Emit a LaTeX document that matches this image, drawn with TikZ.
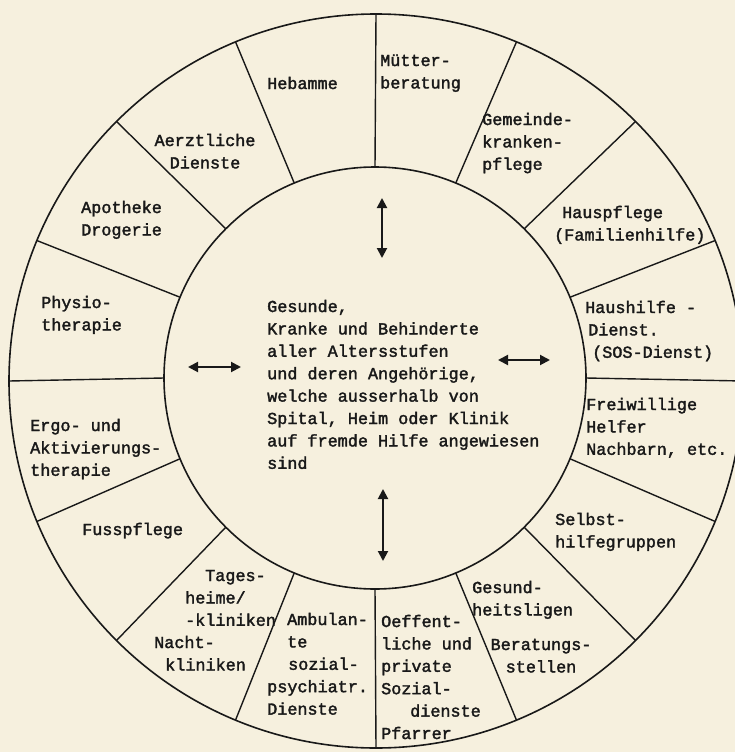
\documentclass[tikz,border=0pt]{standalone}
\usepackage{fontspec}
\newfontfamily\typew{Liberation Mono}[FakeBold=2]
\usepackage{xcolor}
\usetikzlibrary{arrows.meta}
\definecolor{paper}{RGB}{246,240,222}
\definecolor{ink}{RGB}{25,25,25}

\begin{document}
\begin{tikzpicture}[
    x=1pt, y=-1pt,
    every node/.style={inner sep=0pt, text=ink, font=\typew\fontsize{16.8}{22.4}\selectfont},
    service/.style={anchor=base west, align=left},
    cservice/.style={anchor=base, align=center},
    ring/.style={draw=ink, line width=1.6pt},
    spoke/.style={draw=ink, line width=1.4pt},
    twoway/.style={{Triangle[length=10pt,width=10pt]}-{Triangle[length=10pt,width=10pt]}, line width=2pt, draw=ink}
]
    \fill[paper] (0,0) rectangle (735,752);
    \useasboundingbox (0,0) rectangle (735,752);

    % Inner and outer circle, the ring between them cut into 16 sectors of 22.5 degrees
    \coordinate (ci) at (375,378);
    \coordinate (co) at (376,381);
    \draw[ring] (co) circle[radius=367];
    \draw[ring] (ci) circle[radius=211];
    \foreach \a in {0,22.5,...,337.5}
        \draw[spoke] ([shift={(\a:211)}]ci) -- ([shift={(\a:367)}]co);

    % Sectors, clockwise from the top
    % (each node sits on the baseline of its last line)
    \node[service] (hebamme) at (267,89) {Hebamme};
    \node[service] (muetter) at (380,88.4) {Mütter-\\beratung};
    \node[service] (gemeinde) at (482,169.8) {Gemeinde-\\kranken-\\pflege};
    \node[service] (hauspflege) at (554,240.4) {\hspace*{8pt}Hauspflege\\(Familienhilfe)};
    \node[service] (haushilfe) at (585,357.8) {Haushilfe -\\\hspace*{3pt}Dienst.\\\hspace*{7pt}(SOS-Dienst)};
    \node[service] (freiwillig) at (586,454.8) {Freiwillige\\Helfer\\Nachbarn, etc.};
    \node[service] (selbsthilfe) at (555,547.4) {Selbst-\\hilfegruppen};
    \node[service] (ligen) at (472,615.4) {Gesund-\\heitsligen};
    \node[cservice] (beratung) at (541,672.4) {Beratungs-\\stellen};
    \node[service] (sozial) at (381,739) {Oeffent-\\liche und\\private\\Sozial-\\\hspace*{29pt}dienste\\Pfarrer};
    \node[service] (ambulant) at (267,714.6) {\hspace*{20pt}Ambulan-\\\hspace*{20pt}te\\\hspace*{21pt}sozial-\\psychiatr.\\Dienste};
    \node[service] (tages) at (185,625.8) {\hspace*{20pt}Tages-\\heime/\\-kliniken};
    \node[service] (nacht) at (154,670.4) {Nacht-\\\hspace*{11pt}kliniken};
    \node[service] (fuss) at (82,535) {Fusspflege};
    \node[service] (ergo) at (30,475.8) {Ergo- und\\Aktivierungs-\\therapie};
    \node[service] (physio) at (41,330.4) {Physio-\\therapie};
    \node[service] (apotheke) at (81,235.4) {Apotheke\\Drogerie};
    \node[cservice] (aerzte) at (205,168.4) {Aerztliche\\Dienste};

    % Centre
    \node[service] (mitte) at (267,468.8) {Gesunde,\\Kranke und Behinderte\\aller Altersstufen\\und deren Angehörige,\\welche ausserhalb von\\Spital, Heim oder Klinik\\auf fremde Hilfe angewiesen\\sind};

    % Double arrows between centre and ring
    \coordinate (nA) at (382,198);
    \coordinate (nB) at (382,258);
    \coordinate (wA) at (188,367);
    \coordinate (wB) at (241,367);
    \coordinate (eA) at (498,360);
    \coordinate (eB) at (550,360);
    \coordinate (sA) at (383,489);
    \coordinate (sB) at (383,561);
    \draw[twoway] (nA) -- (nB);
    \draw[twoway] (wA) -- (wB);
    \draw[twoway] (eA) -- (eB);
    \draw[twoway] (sA) -- (sB);
\end{tikzpicture}
\end{document}
